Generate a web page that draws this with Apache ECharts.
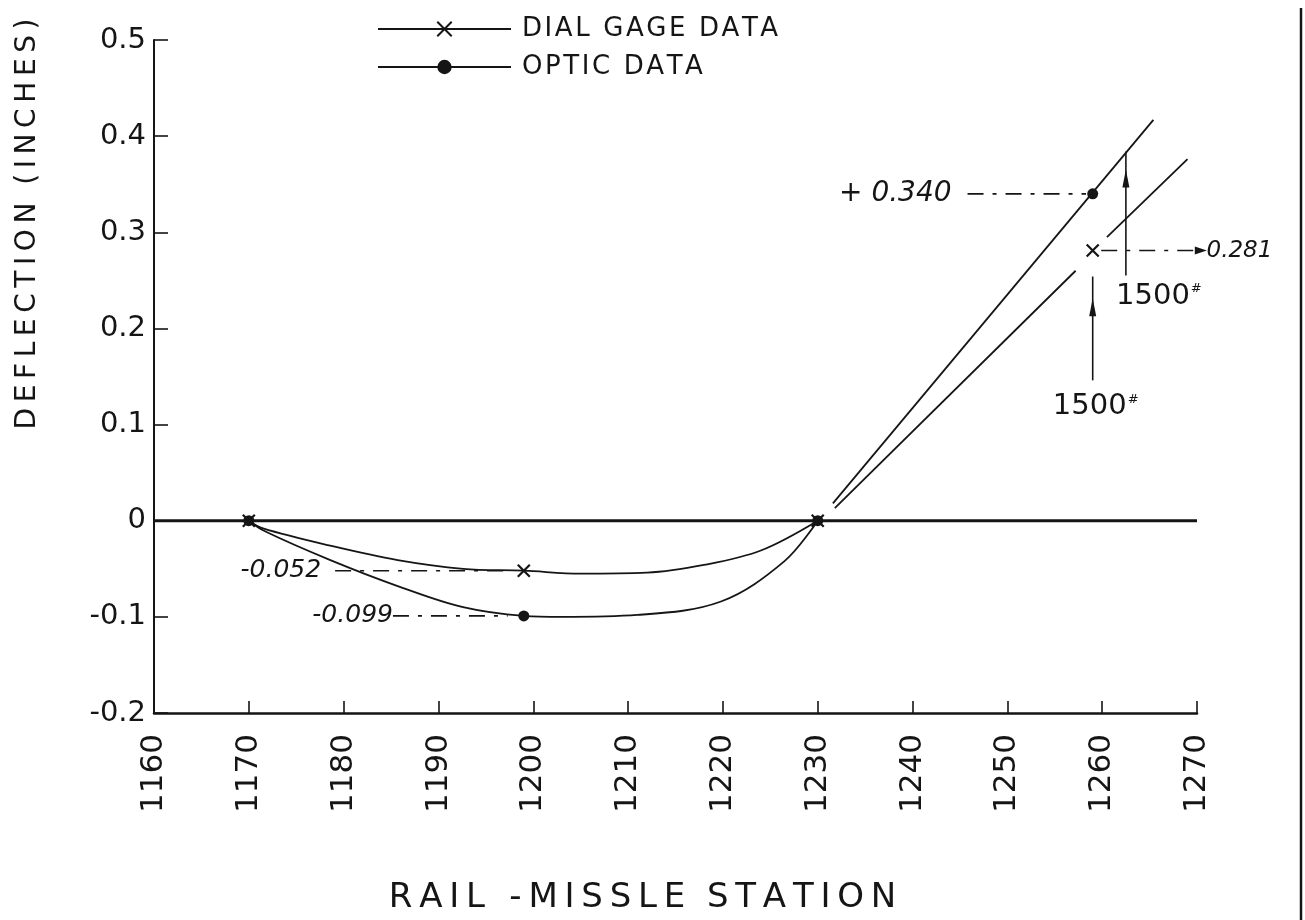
<!DOCTYPE html>
<html>
<head>
<meta charset="utf-8">
<title>Deflection vs Rail-Missle Station</title>
<script src="https://cdn.jsdelivr.net/npm/echarts@6/dist/echarts.min.js"></script>
<style>
  html, body { margin: 0; padding: 0; background: #fff; }
  #chart { width: 1305px; height: 920px; }
</style>
</head>
<body>
<div id="chart"></div>
<script>
// ---- axis ranges / ticks ----
const stationTicks = [1160, 1170, 1180, 1190, 1200, 1210, 1220, 1230, 1240, 1250, 1260, 1270];
const deflectionTicks = [-0.2, -0.1, 0, 0.1, 0.2, 0.3, 0.4, 0.5];

// ---- measured points ----
const dialStations = [1170, 1199, 1230, 1259];
const dialValues = [0, -0.052, 0, 0.281];
const opticStations = [1170, 1199, 1230, 1259];
const opticValues = [0, -0.099, 0, 0.340];

// ---- faired deflection curves between supports ----
const dialCurve = [[1170, 0], [1171.5, -0.008], [1178.6, -0.026], [1185.7, -0.041], [1192.6, -0.050],
  [1199, -0.052], [1205, -0.055], [1212, -0.054], [1218, -0.046], [1224, -0.031], [1230, 0]];
const opticCurve = [[1170, 0], [1171.7, -0.011], [1178.6, -0.041], [1185.7, -0.068], [1192.6, -0.090],
  [1199, -0.099], [1203, -0.100], [1211, -0.098], [1219.8, -0.084], [1226.5, -0.042], [1230, 0]];

// ---- cantilever lines beyond 1230 ----
const opticRise = [[1231.6, 0.018], [1265.4, 0.417]];
const dialRiseLower = [[1231.8, 0.013], [1257.2, 0.260]];
const dialRiseUpper = [[1260.5, 0.295], [1269.0, 0.376]];

// ---- applied loads ----
const loadStations = [1259, 1262.5];
const loadFrom = [0.146, 0.255];
const loadTo = [0.254, 0.384];
const loadHeads = [0.222, 0.356];
const loadText = ['1500', '1500'];

// ---- zero reference ----
const zeroLine = [[1160, 0], [1270, 0]];

const FONT = '"DejaVu Sans", "Liberation Sans", sans-serif';
const INK = '#151515';
const THIN = '\u2009';
const HAIR = '\u200A';

// widen hand-lettered captions by putting a small space between letters
function spread(str, gap) {
  return str.split('').join(gap || THIN);
}

function fmtVal(v, plus) {
  const s = Math.abs(v).toFixed(3);
  return (v < 0 ? '-' : (plus ? '+ ' : '')) + s;
}

const xMark = 'path://M0,0L10,10M10,0L0,10';

function plainLine(data, width, extra) {
  return Object.assign({
    type: 'line', data: data, symbol: 'none', silent: true, clip: false,
    lineStyle: { color: INK, width: width }, z: 3
  }, extra || {});
}

function leader(x0, x1, y) {
  return plainLine([[x0, y], [x1, y]], 1.6, {
    lineStyle: { color: INK, width: 1.6, type: [16, 9, 4, 9] }
  });
}

function noteLabel(pos, text, position, distance, fontSize) {
  return {
    value: pos,
    label: {
      show: true, position: position, distance: distance, formatter: text,
      fontFamily: FONT, fontStyle: 'italic', fontSize: fontSize, color: INK
    }
  };
}

const series = [
  plainLine(zeroLine, 3),
  plainLine(dialCurve, 1.8, { smooth: 0.35 }),
  plainLine(opticCurve, 1.8, { smooth: 0.35 }),
  plainLine(opticRise, 1.8),
  plainLine(dialRiseLower, 1.8),
  plainLine(dialRiseUpper, 1.8),
  // value leaders
  leader(1179.1, 1197.6, dialValues[1]),
  leader(1185.2, 1197.3, opticValues[1]),
  leader(1245.8, 1258.3, opticValues[3]),
  leader(1259.9, 1270.3, dialValues[3]),
  // load arrows
  plainLine([[loadStations[0], loadFrom[0]], [loadStations[0], loadTo[0]]], 1.6),
  plainLine([[loadStations[1], loadFrom[1]], [loadStations[1], loadTo[1]]], 1.6),
  {
    type: 'scatter', silent: true, clip: false, z: 4,
    symbol: 'triangle', symbolSize: [7, 18],
    itemStyle: { color: INK, opacity: 1 },
    data: loadStations.map((s, i) => [s, loadHeads[i]])
  },
  {
    type: 'scatter', silent: true, clip: false, z: 4,
    symbol: 'triangle', symbolSize: [8, 12], symbolRotate: -90,
    itemStyle: { color: INK, opacity: 1 },
    data: [[1270.4, dialValues[3]]]
  },
  // load labels
  {
    type: 'scatter', silent: true, clip: false, symbolSize: 0, z: 5,
    itemStyle: { opacity: 1 },
    data: [
      { value: [loadStations[0], loadFrom[0]], label: { show: true, position: 'bottom', distance: 12, offset: [3, 0] } },
      { value: [loadStations[1], loadFrom[1]], label: { show: true, position: 'bottom', distance: 6, offset: [33, 0] } }
    ].map((d, i) => {
      d.label.formatter = '{a|' + loadText[i] + '}{s|#}';
      d.label.rich = {
        a: { fontFamily: FONT, fontSize: 29, color: INK },
        s: { fontFamily: FONT, fontSize: 13, color: INK, padding: [0, 0, 14, 1] }
      };
      return d;
    })
  },
  // value labels
  {
    type: 'scatter', silent: true, clip: false, symbolSize: 0, z: 5,
    itemStyle: { opacity: 1 },
    data: [
      noteLabel([1179.1, dialValues[1]], fmtVal(dialValues[1]), 'left', 14, 25),
      noteLabel([1185.2, opticValues[1]], fmtVal(opticValues[1]), 'left', 0, 25),
      noteLabel([1245.8, opticValues[3]], fmtVal(opticValues[3], true), 'left', 16, 28),
      noteLabel([1270.9, dialValues[3]], fmtVal(dialValues[3]), 'right', 1, 23)
    ]
  },
  // measured points
  {
    name: 'OPTIC DATA', type: 'line', z: 6,
    data: opticStations.map((s, i) => [s, opticValues[i]]),
    symbol: 'circle', symbolSize: 11, showSymbol: true,
    lineStyle: { width: 0, opacity: 0 },
    itemStyle: { color: INK, borderWidth: 0 }
  },
  {
    name: 'DIAL GAGE DATA', type: 'line', z: 7,
    data: dialStations.map((s, i) => [s, dialValues[i]]),
    symbol: xMark, symbolSize: 12, showSymbol: true,
    lineStyle: { width: 0, opacity: 0 },
    itemStyle: { color: 'rgba(0,0,0,0)', borderColor: INK, borderWidth: 2.2 }
  }
];

const chart = echarts.init(document.getElementById('chart'), null, { renderer: 'canvas' });
chart.setOption({
  animation: false,
  backgroundColor: '#ffffff',
  grid: { left: 154, right: 108, top: 40, bottom: 202, containLabel: false },
  legend: {
    data: ['DIAL GAGE DATA', 'OPTIC DATA'],
    orient: 'vertical', left: 372, top: 11,
    itemWidth: 133, itemHeight: 18, itemGap: 12,
    selectedMode: false,
    formatter: name => spread(name, HAIR),
    textStyle: { fontFamily: FONT, fontSize: 26, color: INK, padding: [0, 0, 0, 6] },
    lineStyle: { color: INK, width: 2, opacity: 1, type: 'solid' }
  },
  xAxis: {
    type: 'value',
    min: stationTicks[0], max: stationTicks[stationTicks.length - 1], interval: 10,
    axisLine: { onZero: false, lineStyle: { color: INK, width: 2.5 } },
    axisTick: { inside: true, length: 12, lineStyle: { color: INK, width: 1.6 } },
    splitLine: { show: false },
    axisLabel: {
      rotate: 90, margin: 21, fontFamily: FONT, fontSize: 31, color: INK,
      formatter: v => String(Math.round(v))
    },
    name: spread('RAIL -MISSLE') + '  ' + spread('STATION'),
    nameLocation: 'middle', nameGap: 168,
    nameTextStyle: { fontFamily: FONT, fontSize: 34, color: INK, padding: [0, 66, 0, 0] }
  },
  yAxis: {
    type: 'value',
    min: deflectionTicks[0], max: deflectionTicks[deflectionTicks.length - 1], interval: 0.1,
    axisLine: { show: true, onZero: false, lineStyle: { color: INK, width: 2 } },
    axisTick: { show: true, inside: true, length: 14, lineStyle: { color: INK, width: 1.6 } },
    splitLine: { show: false },
    axisLabel: {
      margin: 8, fontFamily: FONT, fontSize: 29, color: INK,
      formatter: v => Math.abs(v) < 1e-9 ? '0' : (v < 0 ? '-' : '') + Math.abs(v).toFixed(1)
    }
  },
  graphic: [
    {
      type: 'text', x: 28, y: 224, rotation: Math.PI / 2, silent: true,
      style: {
        text: spread('DEFLECTION') + '  ' + spread('(INCHES)'),
        fontFamily: FONT, fontSize: 28, fill: INK,
        textAlign: 'center', textVerticalAlign: 'middle'
      }
    },
    {
      type: 'line', silent: true,
      shape: { x1: 1301, y1: 8, x2: 1301, y2: 920 },
      style: { stroke: INK, lineWidth: 2.5 }
    }
  ],
  series: series
});
</script>
</body>
</html>
